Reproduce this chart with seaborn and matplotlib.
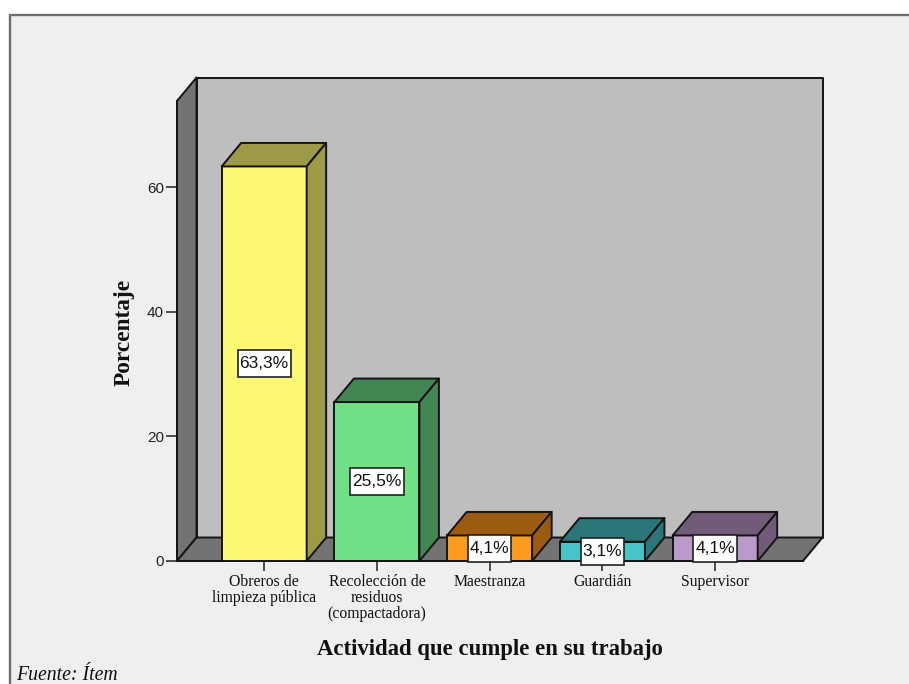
import matplotlib
matplotlib.use("Agg")
import matplotlib.pyplot as plt
from matplotlib.patches import Polygon, Rectangle
from matplotlib.path import Path
import pandas as pd
import seaborn as sns

categories = ["Obreros de\nlimpieza pública", "Recolección de\nresiduos\n(compactadora)",
              "Maestranza", "Guardián", "Supervisor"]
values = [63.3, 25.5, 4.1, 3.1, 4.1]
value_labels = ["63,3%", "25,5%", "4,1%", "3,1%", "4,1%"]
front_colors = ["#FCF873", "#70DF85", "#FB9A1E", "#47C4C8", "#BB9ACB"]
depth_colors = ["#9C9A47", "#438654", "#9B5C11", "#2B7678", "#715B79"]
y_ticks = [0, 20, 40, 60]

W, H = 909, 684
BG, WALL, SIDE, EDGE = "#EFEFEF", "#BEBEBE", "#737373", "#141414"
DX, DY = 19.5, 23.5  # depth of the 3D projection, in pixels
LW = 1.4


def label_box(x, y, w, h, mutation_size, padx=2, pady=6):
    x0, x1 = x - padx, x + w + padx
    y0, y1 = y - pady, y + h + pady
    return Path([(x0, y0), (x1, y0), (x1, y1), (x0, y1), (x0, y0)], closed=True)


sns.set_theme(style="white")
fig = plt.figure(figsize=(W / 100, H / 100), dpi=100, facecolor="white")
frame = Rectangle((9.5 / W, -0.01), (W + 20) / W, 1 - 15 / H + 0.01, transform=fig.transFigure,
                  facecolor=BG, edgecolor="#6E6E6E", linewidth=1.7, zorder=-5)
fig.add_artist(frame)
ax = fig.add_axes([177 / W, 1 - 561 / H, (803 - 177) / W, (561 - 101) / H])
ax.patch.set_alpha(0)

df = pd.DataFrame({"cat": categories, "val": values})
sns.barplot(data=df, x="cat", y="val", hue="cat", order=categories, hue_order=categories,
            palette=front_colors, width=0.754, saturation=1, legend=False,
            edgecolor=EDGE, linewidth=LW, ax=ax, zorder=3)
ax.set_xlim(-0.773, 4.779)
ax.set_ylim(0, 73.8)

ux = (4.779 + 0.773) / (803 - 177)
uy = 73.8 / (561 - 101)
ddx, ddy = DX * ux, DY * uy


def poly(pts, color, z):
    ax.add_patch(Polygon(pts, closed=True, facecolor=color, edgecolor=EDGE, linewidth=LW,
                         zorder=z, clip_on=False, joinstyle="round"))


x0, x1 = ax.get_xlim()
y0, y1 = ax.get_ylim()
poly([(x0 + ddx, y0 + ddy), (x1 + ddx, y0 + ddy), (x1 + ddx, y1 + ddy), (x0 + ddx, y1 + ddy)], WALL, 0.5)
poly([(x0, y0), (x0 + ddx, y0 + ddy), (x0 + ddx, y1 + ddy), (x0, y1)], SIDE, 0.6)
poly([(x0, y0), (x1, y0), (x1 + ddx, y0 + ddy), (x0 + ddx, y0 + ddy)], SIDE, 0.7)

for container, dcol, lab in zip(ax.containers, depth_colors, value_labels):
    bar = container[0]
    bl, br, top = bar.get_x(), bar.get_x() + bar.get_width(), bar.get_height()
    poly([(bl, top), (br, top), (br + ddx, top + ddy), (bl + ddx, top + ddy)], dcol, 3)
    poly([(br, 0), (br + ddx, ddy), (br + ddx, top + ddy), (br, top)], dcol, 3)
    ax.bar_label(container, labels=[lab], label_type="center", fontsize=12.5, color="#111111",
                 family="Liberation Sans", zorder=6, clip_on=False,
                 bbox=dict(boxstyle=label_box, facecolor="white", edgecolor="#222222", linewidth=1.2))

sns.despine(ax=ax, top=True, right=True)
for s in ("left", "bottom"):
    ax.spines[s].set_color(EDGE)
    ax.spines[s].set_linewidth(LW)
    ax.spines[s].set_zorder(2)

ax.set_yticks(y_ticks)
ax.tick_params(axis="y", length=8, width=1.1, color="#222222", labelsize=11, pad=1.5, labelcolor="#222222", left=True)
ax.tick_params(axis="x", length=7.5, width=1.1, color="#222222", labelsize=11.3, pad=1.5, labelcolor="#111111", bottom=True)
for t in ax.get_yticklabels():
    t.set_family("Liberation Sans")
for t in ax.get_xticklabels():
    t.set_family("Liberation Serif")
    t.set_linespacing(1.0)

ax.set_xlabel("")
ax.set_ylabel("")
fig.text(490 / W, 1 - 650 / H, "Actividad que cumple en su trabajo", family="Liberation Serif",
         fontweight="bold", fontsize=16.4, ha="center", va="center", color="#111111")
fig.text(124 / W, 1 - 332 / H, "Porcentaje", family="Liberation Serif", fontweight="bold",
         fontsize=16.8, rotation=90, ha="center", va="center", color="#111111")
fig.text(16 / W, 1 - 676 / H, "Fuente: Ítem", family="Liberation Serif", style="italic",
         fontsize=14.2, ha="left", va="center", color="#111111")

fig.savefig("out.png", dpi=100)
